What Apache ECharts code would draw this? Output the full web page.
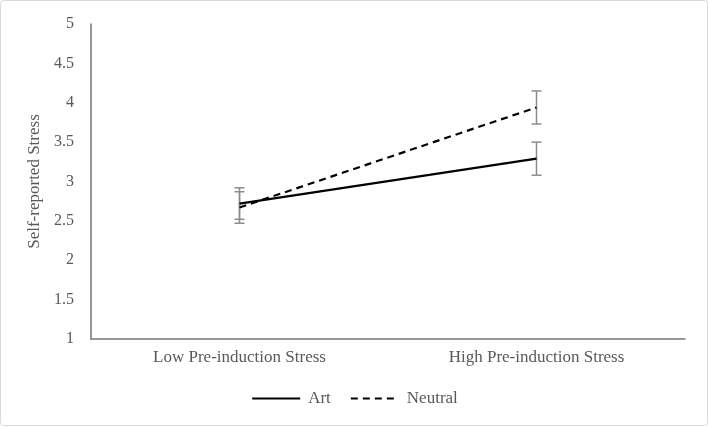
<!DOCTYPE html>
<html>
<head>
<meta charset="utf-8">
<script src="https://cdn.jsdelivr.net/npm/echarts@6/dist/echarts.min.js"></script>
<style>
  html, body { margin: 0; padding: 0; background: #fff; }
  #chart { width: 709px; height: 427px; }
</style>
</head>
<body>
<div id="chart"></div>
<script>
// data
const categories = ['Low Pre-induction Stress', 'High Pre-induction Stress'];
const artMeans = [2.72, 3.29];
const artErr = [0.2, 0.21];
const neutralMeans = [2.67, 3.94];
const neutralErr = [0.2, 0.21];
const yTicks = { min: 1, max: 5, step: 0.5 };

const serif = '"Liberation Serif", "DejaVu Serif", serif';
const textGray = '#595959';

function errData(means, errs) {
  return means.map((m, i) => [i, m - errs[i], m + errs[i]]);
}

function renderErr(params, api) {
  const lo = api.coord([api.value(0), api.value(1)]);
  const hi = api.coord([api.value(0), api.value(2)]);
  const half = 5;
  const style = { stroke: '#8c8c8c', lineWidth: 1.5 };
  return {
    type: 'group',
    children: [
      { type: 'line', shape: { x1: hi[0], y1: hi[1], x2: lo[0], y2: lo[1] }, style },
      { type: 'line', shape: { x1: hi[0] - half, y1: hi[1], x2: hi[0] + half, y2: hi[1] }, style },
      { type: 'line', shape: { x1: lo[0] - half, y1: lo[1], x2: lo[0] + half, y2: lo[1] }, style }
    ]
  };
}

const chart = echarts.init(document.getElementById('chart'));

const option = {
  backgroundColor: '#fff',
  animation: false,
  graphic: [{
    type: 'rect',
    shape: { x: 0.5, y: 0.5, width: 707, height: 425, r: 3 },
    style: { fill: 'none', stroke: '#d9d9d9', lineWidth: 1 },
    silent: true
  }],
  grid: { left: 91, right: 24, top: 24, bottom: 88 },
  legend: {
    data: ['Art', 'Neutral'],
    bottom: 15,
    left: 'center',
    itemWidth: 48,
    itemHeight: 14,
    itemGap: 19,
    itemStyle: { color: 'transparent', borderWidth: 0 },
    textStyle: { fontFamily: serif, fontSize: 17, color: textGray, padding: [0, 0, 0, 3] }
  },
  xAxis: {
    type: 'category',
    data: categories,
    boundaryGap: true,
    axisLine: { lineStyle: { color: '#767676', width: 1.5 } },
    axisTick: { show: false },
    axisLabel: { fontFamily: serif, fontSize: 17, color: textGray, margin: 10 }
  },
  yAxis: {
    type: 'value',
    min: yTicks.min,
    max: yTicks.max,
    interval: yTicks.step,
    name: 'Self-reported Stress',
    nameLocation: 'middle',
    nameGap: 45,
    nameTextStyle: { fontFamily: serif, fontSize: 17, color: textGray },
    axisLine: { show: true, lineStyle: { color: '#767676', width: 1.5 } },
    axisTick: { show: false },
    splitLine: { show: false },
    axisLabel: { fontFamily: serif, fontSize: 16, color: textGray, margin: 17 }
  },
  series: [
    {
      name: 'Art',
      type: 'line',
      data: artMeans,
      symbol: 'none',
      z: 3,
      lineStyle: { color: '#000', width: 2.2, type: 'solid' },
      itemStyle: { color: '#000' }
    },
    {
      name: 'Neutral',
      type: 'line',
      data: neutralMeans,
      symbol: 'none',
      z: 3,
      lineStyle: { color: '#000', width: 2.2, type: [7, 5] },
      itemStyle: { color: '#000' }
    },
    {
      name: 'Art error',
      type: 'custom',
      data: errData(artMeans, artErr),
      renderItem: renderErr,
      encode: { x: 0, y: [1, 2] },
      z: 2
    },
    {
      name: 'Neutral error',
      type: 'custom',
      data: errData(neutralMeans, neutralErr),
      renderItem: renderErr,
      encode: { x: 0, y: [1, 2] },
      z: 2
    }
  ]
};

chart.setOption(option);
</script>
</body>
</html>
